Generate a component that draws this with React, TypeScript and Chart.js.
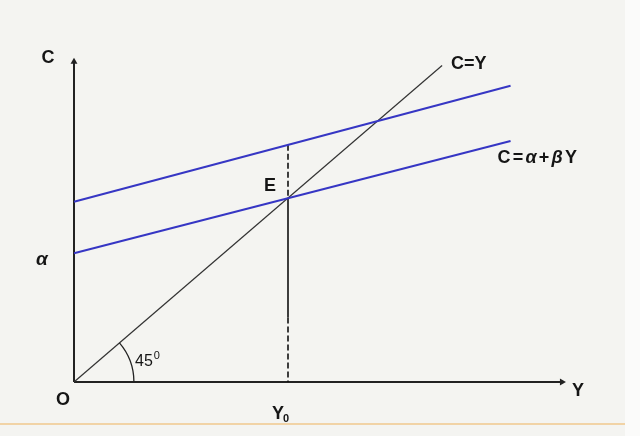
import React, { useEffect, useRef } from "react";
import { Chart, registerables } from "chart.js";

Chart.register(...registerables);

// ---- data (economic units) ----
const consumptionIncome = [0, 10.2];          // Y values where the consumption lines are drawn
const consumptionLow = [3.5, 6.55];           // C = α + βY
const consumptionHigh = [4.9, 8.05];          // shifted consumption line
const diagonalIncome = [0, 8.6];              // C = Y line
const diagonalC = [0, 8.6];
const equilibriumY = 5;                       // Y0
const dropUpperC = [6.45, 5];                 // dashed part above E
const dropSolidC = [5, 1.75];                 // solid part below E
const dropLowerC = [1.75, 0];                 // dashed part near axis
const axisEndY = 11.4;
const axisEndC = 8.7;

const LINE_BLUE = "#3636c4";

export default function App() {
  const canvasRef = useRef<HTMLCanvasElement | null>(null);

  useEffect(() => {
    const canvas = canvasRef.current;
    if (!canvas) return;

    const annotations = {
      id: "annotations",
      afterDatasetsDraw(chart: any) {
        const { ctx, scales } = chart;
        const xs = scales.x;
        const ys = scales.y;
        const ox = xs.getPixelForValue(0);
        const oy = ys.getPixelForValue(0);

        // 45 degree arc
        const r = xs.getPixelForValue(1.4) - ox;
        const dx = xs.getPixelForValue(diagonalIncome[1]) - ox;
        const dy = oy - ys.getPixelForValue(diagonalC[1]);
        const theta = Math.atan2(dy, dx);
        ctx.save();
        ctx.strokeStyle = "#222";
        ctx.lineWidth = 1.3;
        ctx.beginPath();
        ctx.arc(ox, oy, r, -theta, 0, false);
        ctx.stroke();

        ctx.fillStyle = "#151515";
        ctx.textBaseline = "middle";
        const bold = (s: number, it = false) =>
          `${it ? "italic " : ""}bold ${s}px "Liberation Sans", Arial, sans-serif`;

        const text = (t: string, x: number, y: number, font: string, align: CanvasTextAlign = "center") => {
          ctx.font = font;
          ctx.textAlign = align;
          ctx.fillText(t, x, y);
        };

        const yTop = ys.getPixelForValue(axisEndC);
        const xEnd = xs.getPixelForValue(axisEndY);
        const xe = xs.getPixelForValue(equilibriumY);
        const ye = ys.getPixelForValue(5);

        text("C", ox - 26, yTop - 4, bold(18));
        text("α", ox - 32, ys.getPixelForValue(consumptionLow[0]) + 7, bold(19, true));
        text("O", ox - 11, oy + 18, bold(18));
        // Y0
        ctx.font = bold(18);
        ctx.textAlign = "left";
        ctx.fillText("Y", xe - 16, oy + 32);
        const wy = ctx.measureText("Y").width;
        ctx.font = bold(11);
        ctx.fillText("0", xe - 16 + wy - 1, oy + 37);

        text("Y", xEnd + 16, oy + 9, bold(18));
        text("E", xe - 18, ye - 12, bold(18));
        text("C=Y", xs.getPixelForValue(diagonalIncome[1]) + 9, ys.getPixelForValue(diagonalC[1]) - 1, bold(18), "left");

        // C = α + βY
        let cx = xs.getPixelForValue(consumptionIncome[1]) - 13;
        const cy = ys.getPixelForValue(consumptionLow[1]) + 17;
        const parts: [string, boolean][] = [["C", false], ["=", false], ["α", true], ["+", false], ["β", true], ["Y", false]];
        for (const [p, it] of parts) {
          ctx.font = bold(18, it);
          ctx.textAlign = "left";
          ctx.fillText(p, cx, cy);
          cx += ctx.measureText(p).width + 2.2;
        }

        // 45⁰
        ctx.font = `16px "Liberation Sans", Arial, sans-serif`;
        ctx.textAlign = "left";
        ctx.fillText("45", ox + 61, oy - 20);
        const w45 = ctx.measureText("45").width;
        ctx.font = `11px "Liberation Sans", Arial, sans-serif`;
        ctx.fillText("0", ox + 62 + w45, oy - 26);
        ctx.restore();
      },
    };

    const pts = (xsArr: number[], ysArr: number[]) => xsArr.map((x, i) => ({ x, y: ysArr[i] }));
    const vert = (cs: number[]) => cs.map((c) => ({ x: equilibriumY, y: c }));

    const base = { showLine: true, pointRadius: 0 };

    const chart = new Chart(canvas, {
      type: "scatter",
      data: {
        datasets: [
          { ...base, label: "high", data: pts(consumptionIncome, consumptionHigh), borderColor: LINE_BLUE, borderWidth: 2 },
          { ...base, label: "low", data: pts(consumptionIncome, consumptionLow), borderColor: LINE_BLUE, borderWidth: 2 },
          { ...base, label: "diag", data: pts(diagonalIncome, diagonalC), borderColor: "#333", borderWidth: 1.2 },
          { ...base, label: "dropUp", data: vert(dropUpperC), borderColor: "#111", borderWidth: 1.6, borderDash: [6, 3] },
          { ...base, label: "dropMid", data: vert(dropSolidC), borderColor: "#111", borderWidth: 1.6 },
          { ...base, label: "dropLow", data: vert(dropLowerC), borderColor: "#111", borderWidth: 1.6, borderDash: [6, 3] },
          {
            ...base,
            label: "xaxis",
            data: [{ x: 0, y: 0 }, { x: axisEndY, y: 0 }],
            borderColor: "#222",
            borderWidth: 2,
            pointRadius: [0, 4],
            pointStyle: "triangle",
            rotation: 90,
            pointBackgroundColor: "#222",
            pointBorderColor: "#222",
            pointBorderWidth: 0,
          },
          {
            ...base,
            label: "yaxis",
            data: [{ x: 0, y: 0 }, { x: 0, y: axisEndC }],
            borderColor: "#222",
            borderWidth: 2,
            pointRadius: [0, 4],
            pointStyle: "triangle",
            pointBackgroundColor: "#222",
            pointBorderColor: "#222",
            pointBorderWidth: 0,
          },
        ],
      },
      options: {
        animation: false,
        responsive: false,
        clip: false as any,
        layout: { padding: { left: 74, right: 52.4, top: 14, bottom: 54 } },
        plugins: { legend: { display: false }, tooltip: { enabled: false } },
        scales: {
          x: { type: "linear", min: 0, max: 12, display: false },
          y: { type: "linear", min: 0, max: 10, display: false },
        },
      },
      plugins: [annotations],
    });

    return () => chart.destroy();
  }, []);

  return (
    <div
      style={{
        position: "fixed",
        left: 0,
        top: 0,
        width: 640,
        height: 436,
        background: "#f4f4f1",
        overflow: "hidden",
      }}
    >
      <div style={{ position: "absolute", left: 625, top: 0, width: 15, height: 436, background: "#fbfbfa" }} />
      <div style={{ position: "absolute", left: 0, top: 423, width: 625, height: 2, background: "#f1d3a6" }} />
      <canvas ref={canvasRef} width={640} height={436} style={{ position: "absolute", left: 0, top: 0 }} />
    </div>
  );
}
